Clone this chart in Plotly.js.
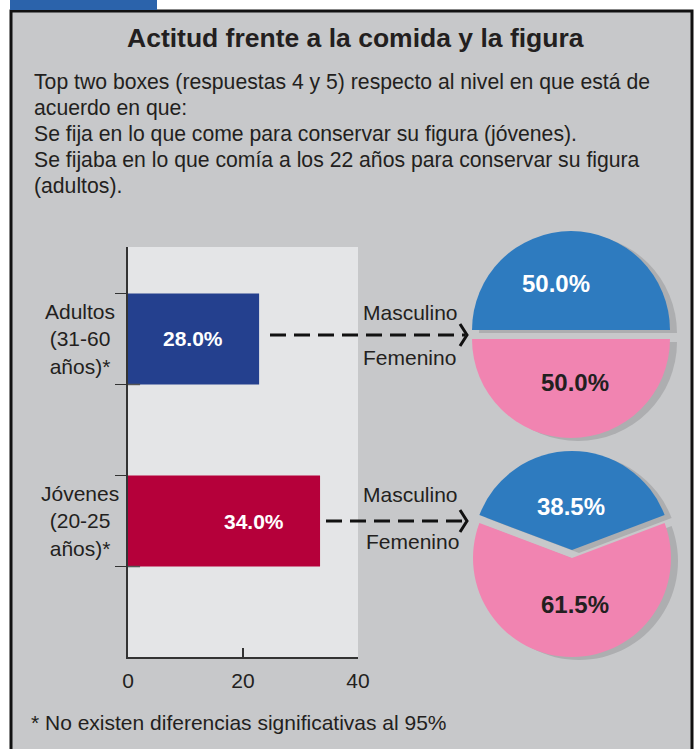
<!DOCTYPE html>
<html>
<head>
<meta charset="utf-8">
<script src="https://cdn.plot.ly/plotly-3.0.1.min.js"></script>
<style>
  html, body { margin: 0; padding: 0; background: #fff; }
  #chart { width: 696px; height: 749px; }
</style>
</head>
<body>
<div id="chart"></div>
<script>
// Bar part: printed percentages and the lengths the bars are actually drawn at
const groups = ['Adultos', 'Jóvenes'];
const groupLabels = ['Adultos<br>(31-60<br>años)*', 'Jóvenes<br>(20-25<br>años)*'];
const barLengths = [22.8, 33.4];
const barPrinted = [28.0, 34.0];
const barColors = ['#24408e', '#b5003a'];
const xTicks = [0, 20, 40];

// Pie part: gender split of each group
const sexLabels = ['Masculino', 'Femenino'];
const pieAdultos = [50.0, 50.0];
const pieJovenes = [38.5, 61.5];
const pieColors = ['#2e7bbf', '#f184b1'];

const title = 'Actitud frente a la comida y la figura';
const subtitleLines = [
    'Top two boxes (respuestas 4 y 5) respecto al nivel en que está de',
    'acuerdo en que:',
    'Se fija en lo que come para conservar su figura (jóvenes).',
    'Se fijaba en lo que comía a los 22 años para conservar su figura',
    '(adultos).'
];
const footnote = '* No existen diferencias significativas al 95%';

const W = 696, H = 749;
const FONT = 'Liberation Sans, Arial, Helvetica, sans-serif';
const INK = '#231f20';
const px = x => x / W;
const py = y => 1 - y / H;

const BAR_W = 0.5;
const yPos = [1, 0]; // Adultos on top

const barTrace = {
    type: 'bar',
    orientation: 'h',
    x: barLengths,
    y: yPos,
    width: BAR_W,
    marker: { color: barColors, line: { width: 0 } },
    hoverinfo: 'skip',
    xaxis: 'x',
    yaxis: 'y'
};

// pie helper: center (cx, cy) and radius r in pixels
function pieTrace(values, pull, rotation, cx, cy, r, colors) {
    const maxPull = Math.max(...pull);
    const half = r * (1 + maxPull);
    return {
        type: 'pie',
        values: values,
        labels: sexLabels,
        sort: false,
        direction: 'clockwise',
        rotation: rotation,
        pull: pull,
        textinfo: 'none',
        hoverinfo: 'skip',
        marker: { colors: colors, line: { width: 0 } },
        domain: {
            x: [px(cx - half), px(cx + half)],
            y: [py(cy + half), py(cy - half)]
        },
        showlegend: false
    };
}

const rotA = -90;
const rotJ = -(pieJovenes[0] / 100 * 360) / 2;
const SHADOW = ['#adaeb0', '#adaeb0'];

const data = [
    barTrace,
    pieTrace(pieAdultos, [0.09, 0], rotA, 578, 342, 99, SHADOW),
    pieTrace(pieAdultos, [0.09, 0], rotA, 571, 339, 99, pieColors),
    pieTrace(pieJovenes, [0.08, 0], rotJ, 579, 561, 99, SHADOW),
    pieTrace(pieJovenes, [0.08, 0], rotJ, 572, 558, 99, pieColors)
];

const annotations = [];
const txt = (text, x, y, size, opts) => Object.assign({
    text: text, xref: 'paper', yref: 'paper', x: px(x), y: py(y),
    showarrow: false, font: { family: FONT, size: size, color: INK }
}, opts || {});

annotations.push(txt('<b>' + title + '</b>', 355, 38, 26.5, { xanchor: 'center', yanchor: 'middle' }));
subtitleLines.forEach((line, i) => {
    annotations.push(txt(line, 32, 82 + i * 26, 21.2, { xanchor: 'left', yanchor: 'middle' }));
});
annotations.push(txt(footnote, 29, 722, 21, { xanchor: 'left', yanchor: 'middle' }));

// group labels left of the axis
groupLabels.forEach((lab, i) => {
    annotations.push({
        text: lab, xref: 'paper', yref: 'y', x: px(80), y: yPos[i],
        xanchor: 'center', yanchor: 'middle', align: 'center', showarrow: false,
        font: { family: FONT, size: 21, color: INK }
    });
});

// printed bar values
barPrinted.forEach((v, i) => {
    annotations.push({
        text: '<b>' + v.toFixed(1) + '%</b>', xref: 'x', yref: 'y', x: barLengths[i], y: yPos[i],
        xanchor: 'right', yanchor: 'middle', xshift: -34, showarrow: false,
        font: { family: FONT, size: 21, color: '#ffffff' }
    });
});

// pie labels
const pieText = (v, x, y, color) => txt('<b>' + v.toFixed(1) + '%</b>', x, y, 24,
    { xanchor: 'center', yanchor: 'middle', font: { family: FONT, size: 24, color: color } });
annotations.push(pieText(pieAdultos[0], 556, 283, '#ffffff'));
annotations.push(pieText(pieAdultos[1], 575, 382, INK));
annotations.push(pieText(pieJovenes[0], 571, 506, '#ffffff'));
annotations.push(pieText(pieJovenes[1], 575, 604, INK));

// Masculino / Femenino captions next to the arrows
annotations.push(txt(sexLabels[0], 410, 312, 21, { xanchor: 'center', yanchor: 'middle' }));
annotations.push(txt(sexLabels[1], 409, 358, 21, { xanchor: 'center', yanchor: 'middle' }));
annotations.push(txt(sexLabels[0], 410, 494, 21, { xanchor: 'center', yanchor: 'middle' }));
annotations.push(txt(sexLabels[1], 413, 541, 21, { xanchor: 'center', yanchor: 'middle' }));

const shapes = [
    // gray panel with black frame
    { type: 'rect', xref: 'paper', yref: 'paper', layer: 'below',
      x0: px(11), x1: px(692), y0: py(760), y1: py(11),
      fillcolor: '#c7c8ca', line: { color: '#111', width: 3 } },
    // blue tab of the header
    { type: 'rect', xref: 'paper', yref: 'paper', layer: 'below',
      x0: px(10), x1: px(157), y0: py(10), y1: py(-2),
      fillcolor: '#2b63ab', line: { width: 0 } },
    // light plot area of the bar chart (paper shapes hide plot_bgcolor)
    { type: 'rect', xref: 'x domain', yref: 'y domain', layer: 'below',
      x0: 0, x1: 1, y0: 0, y1: 1,
      fillcolor: '#e4e5e7', line: { width: 0 } }
];

// short stubs on the lower edge of each bar, as in the print
yPos.forEach(p => {
    shapes.push({ type: 'line', xref: 'x', yref: 'y',
        x0: 0, x1: 2.1, y0: p - BAR_W / 2, y1: p - BAR_W / 2,
        line: { color: '#555', width: 1.5 } });
});

function arrow(xStart, xEnd, y) {
    shapes.push({ type: 'line', xref: 'paper', yref: 'paper',
        x0: px(xStart), x1: px(xEnd - 2), y0: py(y), y1: py(y),
        line: { color: '#111', width: 3, dash: '16px,8px' } });
    shapes.push({ type: 'path', xref: 'paper', yref: 'paper',
        path: `M ${px(xEnd - 7)} ${py(y - 11)} L ${px(xEnd)} ${py(y)} L ${px(xEnd - 7)} ${py(y + 11)}`,
        line: { color: '#111', width: 3 } });
}
arrow(270, 467, 335);
arrow(326, 467, 521);

const edgeTicks = [];
yPos.forEach(p => edgeTicks.push(p - BAR_W / 2, p + BAR_W / 2));

const layout = {
    width: W,
    height: H,
    margin: { l: 0, r: 0, t: 0, b: 0 },
    paper_bgcolor: '#ffffff',
    plot_bgcolor: '#e4e5e7',
    showlegend: false,
    font: { family: FONT, color: INK },
    xaxis: {
        domain: [px(128), px(358)],
        range: [0, 40],
        tickvals: xTicks,
        ticks: 'inside',
        ticklen: 9,
        tickwidth: 1.5,
        tickcolor: '#333',
        ticklabelstandoff: 4,
        showline: true,
        linecolor: '#333',
        linewidth: 2,
        showgrid: false,
        zeroline: false,
        tickfont: { family: FONT, size: 21, color: INK },
        fixedrange: true
    },
    yaxis: {
        domain: [py(657), py(247)],
        range: [-0.747, 1.505],
        tickvals: edgeTicks,
        showticklabels: false,
        ticks: 'outside',
        ticklen: 11,
        tickwidth: 1.5,
        tickcolor: '#333',
        showline: true,
        linecolor: '#333',
        linewidth: 2,
        showgrid: false,
        zeroline: false,
        fixedrange: true
    },
    shapes: shapes,
    annotations: annotations
};

Plotly.newPlot('chart', data, layout, { displayModeBar: false, staticPlot: true });
</script>
</body>
</html>
